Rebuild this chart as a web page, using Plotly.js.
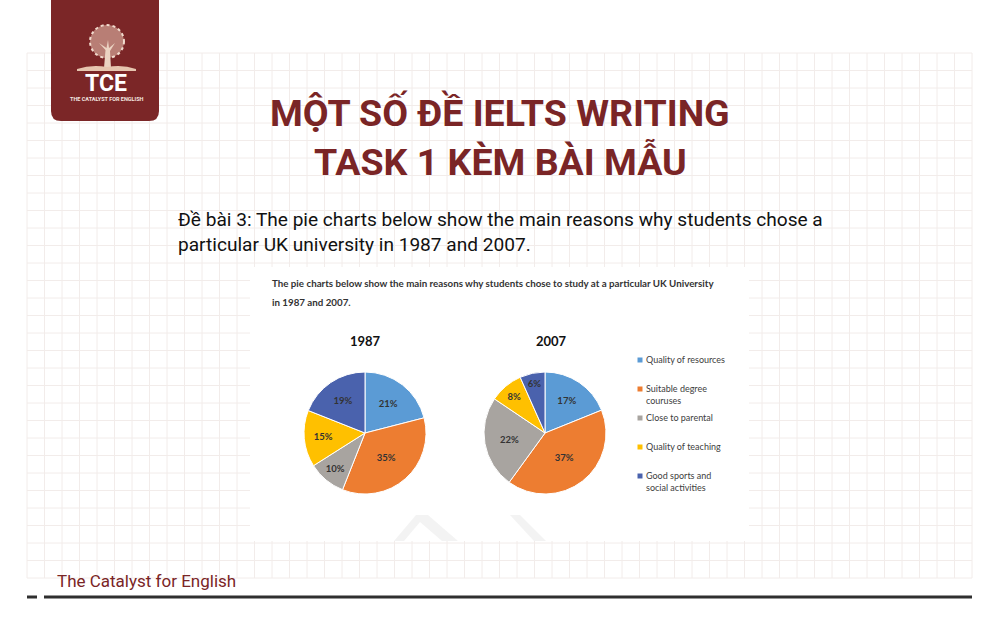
<!DOCTYPE html>
<html>
<head>
<meta charset="utf-8">
<script src="https://cdn.plot.ly/plotly-3.0.1.min.js"></script>
<style>html,body{margin:0;padding:0;background:#fff}#chart{width:1000px;height:625px}</style>
</head>
<body>
<div id="chart"></div>
<script>
// ---- data ----
const categories = ['Quality of resources', 'Suitable degree couruses', 'Close to parental', 'Quality of teaching', 'Good sports and social activities'];
const legendLabels = ['Quality of resources', 'Suitable degree<br>couruses', 'Close to parental', 'Quality of teaching', 'Good sports and<br>social activities'];
const years = ['1987', '2007'];
const values1987 = [21, 35, 10, 15, 19];
const values2007 = [17, 37, 22, 8, 6];
const sliceColors = ['#5B9BD5', '#ED7D31', '#A8A4A0', '#FFC000', '#4A62AD'];

const slideTitle = ['MỘT SỐ ĐỀ IELTS WRITING', 'TASK 1 KÈM BÀI MẪU'];
const slideSubtitle = 'Đề bài 3: The pie charts below show the main reasons why students chose a<br>particular UK university in 1987 and 2007.';
const chartTitle = ['The pie charts below show the main reasons why students chose to study at a particular UK University', 'in 1987 and 2007.'];
const footerText = 'The Catalyst for English';

// ---- helpers (pixel -> paper) ----
const W = 1000, H = 625;
const X = p => p / W;
const Y = p => 1 - p / H;
const RED = '#7A2526';

// ---- shapes ----
const shapes = [];
// grid
for (let i = 0; i <= 54; i++) {
  const x = 27 + i * 17.5;
  shapes.push({type:'line', xref:'paper', yref:'paper', x0:X(x), x1:X(x), y0:Y(53), y1:Y(578), line:{color:'#F2ECEA', width:1}, layer:'below'});
}
for (let j = 0; j <= 30; j++) {
  const y = 53 + j * 17.5;
  shapes.push({type:'line', xref:'paper', yref:'paper', x0:X(27), x1:X(972), y0:Y(y), y1:Y(y), line:{color:'#F2ECEA', width:1}, layer:'below'});
}
// logo block with rounded bottom corners
const lx0 = 51, lx1 = 159, ly1 = 121, rr = 10;
shapes.push({type:'path', xref:'paper', yref:'paper', layer:'below', fillcolor:'#7B2627', line:{width:0},
  path:`M ${X(lx0)} ${Y(0)} L ${X(lx1)} ${Y(0)} L ${X(lx1)} ${Y(ly1-rr)} Q ${X(lx1)} ${Y(ly1)} ${X(lx1-rr)} ${Y(ly1)} L ${X(lx0+rr)} ${Y(ly1)} Q ${X(lx0)} ${Y(ly1)} ${X(lx0)} ${Y(ly1-rr)} Z`});
// tree canopy
shapes.push({type:'circle', xref:'paper', yref:'paper', layer:'below', x0:X(90), x1:X(124), y0:Y(58), y1:Y(25), fillcolor:'rgba(225,185,170,0.6)', line:{color:'rgba(245,225,212,0.95)', width:2, dash:'dot'}});
// trunk
shapes.push({type:'path', xref:'paper', yref:'paper', layer:'below', fillcolor:'#EBD3C2', line:{width:0},
  path:`M ${X(104)} ${Y(68)} L ${X(105.5)} ${Y(50)} L ${X(99)} ${Y(43)} L ${X(106.5)} ${Y(48)} L ${X(108)} ${Y(40)} L ${X(109)} ${Y(48)} L ${X(115)} ${Y(43)} L ${X(110)} ${Y(51)} L ${X(111)} ${Y(68)} Z`});
// book
shapes.push({type:'path', xref:'paper', yref:'paper', layer:'below', fillcolor:'#E6C5AF', line:{width:0},
  path:`M ${X(77)} ${Y(69)} Q ${X(92)} ${Y(64)} ${X(107)} ${Y(67)} Q ${X(122)} ${Y(64)} ${X(136)} ${Y(69)} L ${X(136)} ${Y(71)} L ${X(77)} ${Y(71)} Z`});
// embedded picture background
shapes.push({type:'rect', xref:'paper', yref:'paper', layer:'below', x0:X(250), x1:X(749), y0:Y(541), y1:Y(267), fillcolor:'#FFFFFF', line:{width:0}});
// faint watermark strokes
shapes.push({type:'path', xref:'paper', yref:'paper', layer:'below', fillcolor:'rgba(215,215,215,0.3)', line:{width:0},
  path:`M ${X(394)} ${Y(541)} L ${X(416)} ${Y(515)} L ${X(428)} ${Y(515)} L ${X(458)} ${Y(541)} L ${X(442)} ${Y(541)} L ${X(420)} ${Y(522)} L ${X(404)} ${Y(541)} Z`});
shapes.push({type:'path', xref:'paper', yref:'paper', layer:'below', fillcolor:'rgba(215,215,215,0.3)', line:{width:0},
  path:`M ${X(510)} ${Y(515)} L ${X(520)} ${Y(515)} L ${X(546)} ${Y(541)} L ${X(534)} ${Y(541)} Z`});
// footer rule
shapes.push({type:'line', xref:'paper', yref:'paper', x0:X(27), x1:X(37), y0:Y(597), y1:Y(597), line:{color:'#2F2F2F', width:3}});
shapes.push({type:'line', xref:'paper', yref:'paper', x0:X(44), x1:X(972), y0:Y(597), y1:Y(597), line:{color:'#2F2F2F', width:3}});

// legend squares
const legendY0 = 360, legendStep = 29;
legendLabels.forEach((lab, i) => {
  const cy = legendY0 + i * legendStep;
  shapes.push({type:'rect', xref:'paper', yref:'paper', x0:X(637.5), x1:X(642.5), y0:Y(cy+2.5), y1:Y(cy-2.5), fillcolor:sliceColors[i], line:{width:0}});
});

// ---- annotations ----
const ann = [];
ann.push({text:slideTitle[0], x:X(500), y:Y(112), xref:'paper', yref:'paper', xanchor:'center', yanchor:'middle', showarrow:false,
  font:{family:'Roboto', size:37.5, weight:'bold', color:RED}});
ann.push({text:slideTitle[1], x:X(500), y:Y(161), xref:'paper', yref:'paper', xanchor:'center', yanchor:'middle', showarrow:false,
  font:{family:'Roboto', size:37.5, weight:'bold', color:RED}});
ann.push({text:slideSubtitle, x:X(176), y:Y(231.5), xref:'paper', yref:'paper', xanchor:'left', yanchor:'middle', align:'left', showarrow:false,
  font:{family:'Roboto', size:19.1, color:'#111111'}});
ann.push({text:footerText, x:X(55), y:Y(581), xref:'paper', yref:'paper', xanchor:'left', yanchor:'middle', showarrow:false,
  font:{family:'Roboto', size:17, color:RED}});
// logo texts
ann.push({text:'TCE', x:X(106), y:Y(84), xref:'paper', yref:'paper', xanchor:'center', yanchor:'middle', showarrow:false,
  font:{family:'Roboto', size:23, weight:'bold', color:'#FFFFFF'}});
ann.push({text:'THE CATALYST FOR ENGLISH', x:X(106.5), y:Y(99), xref:'paper', yref:'paper', xanchor:'center', yanchor:'middle', showarrow:false,
  font:{family:'Roboto', size:5.5, weight:'bold', color:'#F3E6E0'}});
// chart title
ann.push({text:chartTitle[0], x:X(270), y:Y(283), xref:'paper', yref:'paper', xanchor:'left', yanchor:'middle', showarrow:false,
  font:{family:'Lato', size:9.75, weight:'bold', color:'#333333'}});
ann.push({text:chartTitle[1], x:X(270), y:Y(302), xref:'paper', yref:'paper', xanchor:'left', yanchor:'middle', showarrow:false,
  font:{family:'Lato', size:9.75, weight:'bold', color:'#333333'}});
// pie titles
const pieCenters = [365, 545];
ann.push({text:years[0], x:X(365), y:Y(341), xref:'paper', yref:'paper', xanchor:'center', yanchor:'middle', showarrow:false,
  font:{family:'Lato', size:13, weight:'bold', color:'#111111'}});
ann.push({text:years[1], x:X(551), y:Y(341), xref:'paper', yref:'paper', xanchor:'center', yanchor:'middle', showarrow:false,
  font:{family:'Lato', size:13, weight:'bold', color:'#111111'}});
// legend texts
legendLabels.forEach((lab, i) => {
  const cy = legendY0 + i * legendStep;
  ann.push({text:lab, x:X(645), y:Y(cy - 6.8), xref:'paper', yref:'paper', xanchor:'left', yanchor:'top', align:'left', showarrow:false, borderpad:0,
    font:{family:'Lato', size:9, color:'#404040'}});
});

// ---- traces ----
const R = 61, CY = 433;
function pieTrace(vals, cx) {
  return {
    type:'pie', labels:categories, values:vals, sort:false, direction:'clockwise', rotation:0,
    domain:{x:[X(cx - R), X(cx + R)], y:[Y(CY + R), Y(CY - R)]},
    marker:{colors:sliceColors, line:{color:'#FFFFFF', width:1}},
    texttemplate:'%{value}%', textposition:'inside', insidetextorientation:'horizontal',
    textfont:{family:'Lato', size:9.5, weight:'bold', color:'#333333'},
    hoverinfo:'skip', showlegend:false
  };
}
const data = [pieTrace(values1987, pieCenters[0]), pieTrace(values2007, pieCenters[1])];

const layout = {
  width:W, height:H, margin:{l:0, r:0, t:0, b:0}, paper_bgcolor:'#FFFFFF', plot_bgcolor:'#FFFFFF',
  showlegend:false, shapes:shapes, annotations:ann, font:{family:'Roboto'}
};
Plotly.newPlot('chart', data, layout, {displayModeBar:false, staticPlot:true});
</script>
</body>
</html>
